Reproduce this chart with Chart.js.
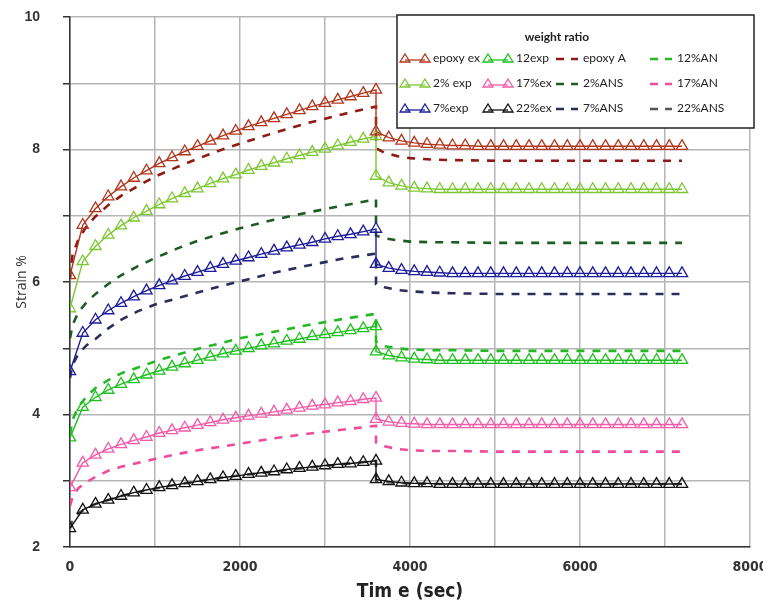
<!DOCTYPE html>
<html>
<head>
<meta charset="utf-8">
<script src="https://cdn.jsdelivr.net/npm/chart.js@4.4.1/dist/chart.umd.min.js"></script>
<style>
  body { margin: 0; background: #fff; }
  canvas { display: block; }
</style>
</head>
<body>
<canvas id="myChart" width="763" height="610"></canvas>
<script>
// times (sec): experiments sampled with markers, ANS curves as smooth lines
const tExp = [0, 150, 300, 450, 600, 750, 900, 1050, 1200, 1350, 1500, 1650, 1800, 1950, 2100, 2250, 2400, 2550, 2700, 2850, 3000, 3150, 3300, 3450, 3600,
              3600, 3750, 3900, 4050, 4200, 4350, 4500, 4650, 4800, 4950, 5100, 5250, 5400, 5550, 5700, 5850, 6000, 6150, 6300, 6450, 6600, 6750, 6900, 7050, 7200];
const tAns = [0, 30, 100, 200, 300, 450, 600, 800, 1000, 1250, 1500, 1750, 2000, 2400, 2800, 3200, 3600,
              3600, 3700, 3850, 4000, 4250, 4500, 5000, 6000, 7200];

// strain % - experiments
const epoxyExp = [6.10, 6.86, 7.11, 7.29, 7.44, 7.57, 7.68, 7.79, 7.88, 7.97, 8.05, 8.13, 8.21, 8.28, 8.35, 8.41, 8.47, 8.53, 8.59, 8.65, 8.70, 8.75, 8.80, 8.85, 8.90,
                  8.27, 8.18, 8.13, 8.10, 8.08, 8.07, 8.06, 8.06, 8.05, 8.05, 8.05, 8.05, 8.05, 8.05, 8.05, 8.05, 8.05, 8.05, 8.05, 8.05, 8.05, 8.05, 8.05, 8.05, 8.05];
const exp2 = [5.60, 6.31, 6.54, 6.71, 6.85, 6.97, 7.07, 7.17, 7.26, 7.34, 7.41, 7.49, 7.56, 7.62, 7.69, 7.75, 7.80, 7.86, 7.91, 7.96, 8.01, 8.06, 8.11, 8.16, 8.20,
              7.60, 7.50, 7.45, 7.42, 7.41, 7.40, 7.40, 7.40, 7.40, 7.40, 7.40, 7.40, 7.40, 7.40, 7.40, 7.40, 7.40, 7.40, 7.40, 7.40, 7.40, 7.40, 7.40, 7.40, 7.40];
const exp7 = [4.65, 5.23, 5.43, 5.57, 5.68, 5.78, 5.87, 5.95, 6.02, 6.09, 6.15, 6.21, 6.27, 6.32, 6.37, 6.42, 6.47, 6.52, 6.56, 6.60, 6.65, 6.69, 6.72, 6.76, 6.80,
              6.27, 6.21, 6.18, 6.16, 6.15, 6.14, 6.13, 6.13, 6.13, 6.13, 6.13, 6.13, 6.13, 6.13, 6.13, 6.13, 6.13, 6.13, 6.13, 6.13, 6.13, 6.13, 6.13, 6.13, 6.13];
const exp12 = [3.65, 4.11, 4.26, 4.37, 4.46, 4.53, 4.60, 4.66, 4.72, 4.77, 4.82, 4.87, 4.92, 4.96, 5.00, 5.04, 5.07, 5.11, 5.14, 5.18, 5.21, 5.24, 5.27, 5.30, 5.33,
               4.95, 4.89, 4.86, 4.84, 4.83, 4.82, 4.82, 4.82, 4.82, 4.82, 4.82, 4.82, 4.82, 4.82, 4.82, 4.82, 4.82, 4.82, 4.82, 4.82, 4.82, 4.82, 4.82, 4.82, 4.82];
const exp17 = [2.90, 3.27, 3.39, 3.48, 3.55, 3.61, 3.66, 3.72, 3.76, 3.80, 3.84, 3.88, 3.92, 3.95, 3.98, 4.01, 4.04, 4.07, 4.10, 4.13, 4.15, 4.18, 4.20, 4.23, 4.25,
               3.93, 3.89, 3.87, 3.86, 3.85, 3.85, 3.85, 3.85, 3.85, 3.85, 3.85, 3.85, 3.85, 3.85, 3.85, 3.85, 3.85, 3.85, 3.85, 3.85, 3.85, 3.85, 3.85, 3.85, 3.85];
const exp22 = [2.28, 2.56, 2.65, 2.71, 2.77, 2.82, 2.86, 2.90, 2.93, 2.96, 2.99, 3.02, 3.05, 3.07, 3.10, 3.12, 3.14, 3.17, 3.19, 3.21, 3.23, 3.25, 3.26, 3.28, 3.30,
               3.02, 2.99, 2.97, 2.96, 2.96, 2.95, 2.95, 2.95, 2.95, 2.95, 2.95, 2.95, 2.95, 2.95, 2.95, 2.95, 2.95, 2.95, 2.95, 2.95, 2.95, 2.95, 2.95, 2.95, 2.95];

// strain % - ANS predictions
const epoxyAns = [6.05, 6.41, 6.65, 6.85, 6.99, 7.16, 7.30, 7.45, 7.59, 7.73, 7.86, 7.98, 8.09, 8.25, 8.40, 8.53, 8.65,
                  8.02, 7.95, 7.90, 7.87, 7.85, 7.84, 7.83, 7.83, 7.83];
const ans2 = [5.15, 5.35, 5.55, 5.70, 5.82, 5.97, 6.10, 6.24, 6.36, 6.50, 6.62, 6.72, 6.81, 6.94, 7.05, 7.15, 7.25,
              6.70, 6.66, 6.63, 6.61, 6.60, 6.60, 6.59, 6.59, 6.59];
const ans7 = [4.55, 4.75, 4.92, 5.05, 5.14, 5.30, 5.43, 5.56, 5.66, 5.75, 5.84, 5.93, 6.01, 6.14, 6.25, 6.35, 6.43,
              5.97, 5.92, 5.88, 5.86, 5.84, 5.83, 5.82, 5.82, 5.82];
const ans12 = [3.70, 3.92, 4.12, 4.28, 4.40, 4.52, 4.62, 4.71, 4.80, 4.90, 4.99, 5.07, 5.15, 5.25, 5.35, 5.44, 5.52,
               5.10, 5.03, 5.00, 4.98, 4.97, 4.97, 4.96, 4.96, 4.96];
const ans17 = [2.62, 2.75, 2.89, 2.98, 3.06, 3.15, 3.21, 3.27, 3.33, 3.40, 3.46, 3.51, 3.56, 3.64, 3.71, 3.77, 3.83,
               3.58, 3.52, 3.48, 3.46, 3.45, 3.45, 3.44, 3.44, 3.44];
const ans22 = [2.28, 2.42, 2.51, 2.59, 2.65, 2.71, 2.77, 2.83, 2.88, 2.94, 2.99, 3.04, 3.08, 3.14, 3.20, 3.25, 3.30,
               3.00, 2.98, 2.97, 2.96, 2.95, 2.95, 2.95, 2.95, 2.95];

const xTicks = [0, 2000, 4000, 6000, 8000];
const yTicks = [2, 4, 6, 8, 10];

function pts(t, v) {
    return t.map((x, i) => ({ x: x, y: v[i] }));
}

function expSet(label, color, values) {
    return {
        label: label,
        data: pts(tExp, values),
        borderColor: color,
        borderWidth: 1.4,
        pointStyle: 'triangle',
        pointRadius: 6.5,
        pointBorderWidth: 1.3,
        pointBorderColor: color,
        pointBackgroundColor: 'rgba(255,255,255,0)',
        tension: 0
    };
}

function ansSet(label, color, values) {
    return {
        label: label,
        data: pts(tAns, values),
        borderColor: color,
        borderWidth: 2.6,
        borderDash: [8, 8],
        pointRadius: 0,
        tension: 0
    };
}

// legend drawn inside the plot, 4 columns x 3 rows
const boxLegend = {
    id: 'boxLegend',
    afterDraw(chart) {
        const ctx = chart.ctx;
        ctx.save();
        ctx.fillStyle = '#fff';
        ctx.fillRect(397, 15, 357, 113);
        ctx.strokeStyle = '#222';
        ctx.lineWidth = 1.5;
        ctx.strokeRect(397, 15, 357, 113);

        ctx.fillStyle = '#222';
        ctx.font = 'bold 12px Lato, sans-serif';
        ctx.textAlign = 'center';
        ctx.textBaseline = 'middle';
        ctx.fillText('weight ratio', 557, 37);

        const colX = [400, 483, 556, 650];
        const rowY = [58, 83, 108];
        ctx.textAlign = 'left';
        ctx.font = '12px Lato, sans-serif';
        chart.data.datasets.forEach((ds, i) => {
            const col = Math.floor(i / 3), row = i % 3;
            const x0 = colX[col], y = rowY[row];
            ctx.strokeStyle = ds.borderColor;
            if (ds.pointStyle === 'triangle') {
                ctx.lineWidth = 1.3;
                ctx.setLineDash([]);
                ctx.beginPath();
                ctx.moveTo(x0 + 5, y + 2);
                ctx.lineTo(x0 + 25, y + 2);
                ctx.stroke();
                [x0 + 5, x0 + 25].forEach(px => {
                    ctx.beginPath();
                    ctx.moveTo(px, y - 4);
                    ctx.lineTo(px + 5, y + 4);
                    ctx.lineTo(px - 5, y + 4);
                    ctx.closePath();
                    ctx.stroke();
                });
                ctx.fillStyle = '#222';
                ctx.fillText(ds.label, x0 + 33, y);
            } else {
                ctx.lineWidth = 2.4;
                ctx.setLineDash([8, 7]);
                ctx.beginPath();
                ctx.moveTo(x0, y + 1);
                ctx.lineTo(x0 + 22, y + 1);
                ctx.stroke();
                ctx.setLineDash([]);
                ctx.fillStyle = '#222';
                ctx.fillText(ds.label, x0 + 27, y);
            }
        });
        ctx.restore();
    }
};

let ctx = document.getElementById('myChart').getContext('2d');
let chart = new Chart(ctx, {
    type: 'line',
    data: {
        datasets: [
            expSet('epoxy ex', '#B2361C', epoxyExp),
            expSet('2% exp', '#7CC832', exp2),
            expSet('7%exp', '#1C1C9C', exp7),
            expSet('12exp', '#1EC01E', exp12),
            expSet('17%ex', '#F25AAA', exp17),
            expSet('22%ex', '#111111', exp22),
            ansSet('epoxy A', '#8E1B12', epoxyAns),
            ansSet('2%ANS', '#1F5C24', ans2),
            ansSet('7%ANS', '#2B2E58', ans7),
            ansSet('12%AN', '#24B824', ans12),
            ansSet('17%AN', '#EE4C9C', ans17),
            ansSet('22%ANS', '#555555', ans22)
        ]
    },
    options: {
        responsive: false,
        animation: false,
        layout: { autoPadding: false, padding: { top: 17, right: 13, left: 0, bottom: 0 } },
        plugins: {
            legend: { display: false },
            tooltip: { enabled: false }
        },
        scales: {
            x: {
                type: 'linear',
                min: 0,
                max: 8000,
                afterFit: s => { s.height = 63; s.paddingLeft = 0; s.paddingRight = 0; },
                afterBuildTicks: s => {
                    s.ticks = [0, 1000, 2000, 3000, 4000, 5000, 6000, 7000, 8000].map(v => ({ value: v }));
                },
                ticks: {
                    padding: 12,
                    maxRotation: 0,
                    autoSkip: false,
                    color: '#333',
                    font: { family: "'Liberation Sans Narrow', 'DejaVu Sans Condensed', sans-serif", size: 14, weight: 'bold' },
                    callback: v => xTicks.includes(v) ? String(v) : ''
                },
                grid: { color: '#b5b5b5', lineWidth: 1.5, drawTicks: false },
                border: { color: '#333', width: 1.5 },
                title: {
                    display: true,
                    text: 'Tim e (sec)',
                    color: '#222',
                    padding: { top: 0, bottom: 7 },
                    font: { family: "'Liberation Sans Narrow', 'DejaVu Sans Condensed', sans-serif", size: 19, weight: 'bold' }
                }
            },
            y: {
                min: 2,
                max: 10,
                afterFit: s => { s.width = 70; s.paddingTop = 0; s.paddingBottom = 0; },
                afterBuildTicks: s => {
                    s.ticks = [2, 3, 4, 5, 6, 7, 8, 9, 10].map(v => ({ value: v }));
                },
                ticks: {
                    padding: 23,
                    color: '#333',
                    font: { family: "'Liberation Sans', sans-serif", size: 14, weight: 'bold' },
                    callback: v => yTicks.includes(v) ? String(v) : ''
                },
                grid: { color: '#b5b5b5', lineWidth: 1.5, tickLength: 7, tickColor: '#333' },
                border: { color: '#333', width: 1.5 },
                title: {
                    display: true,
                    text: 'Strain %',
                    color: '#333',
                    padding: { top: 14, bottom: 0 },
                    font: { family: "'Open Sans', sans-serif", size: 14 }
                }
            }
        }
    },
    plugins: [boxLegend]
});
</script>
</body>
</html>
